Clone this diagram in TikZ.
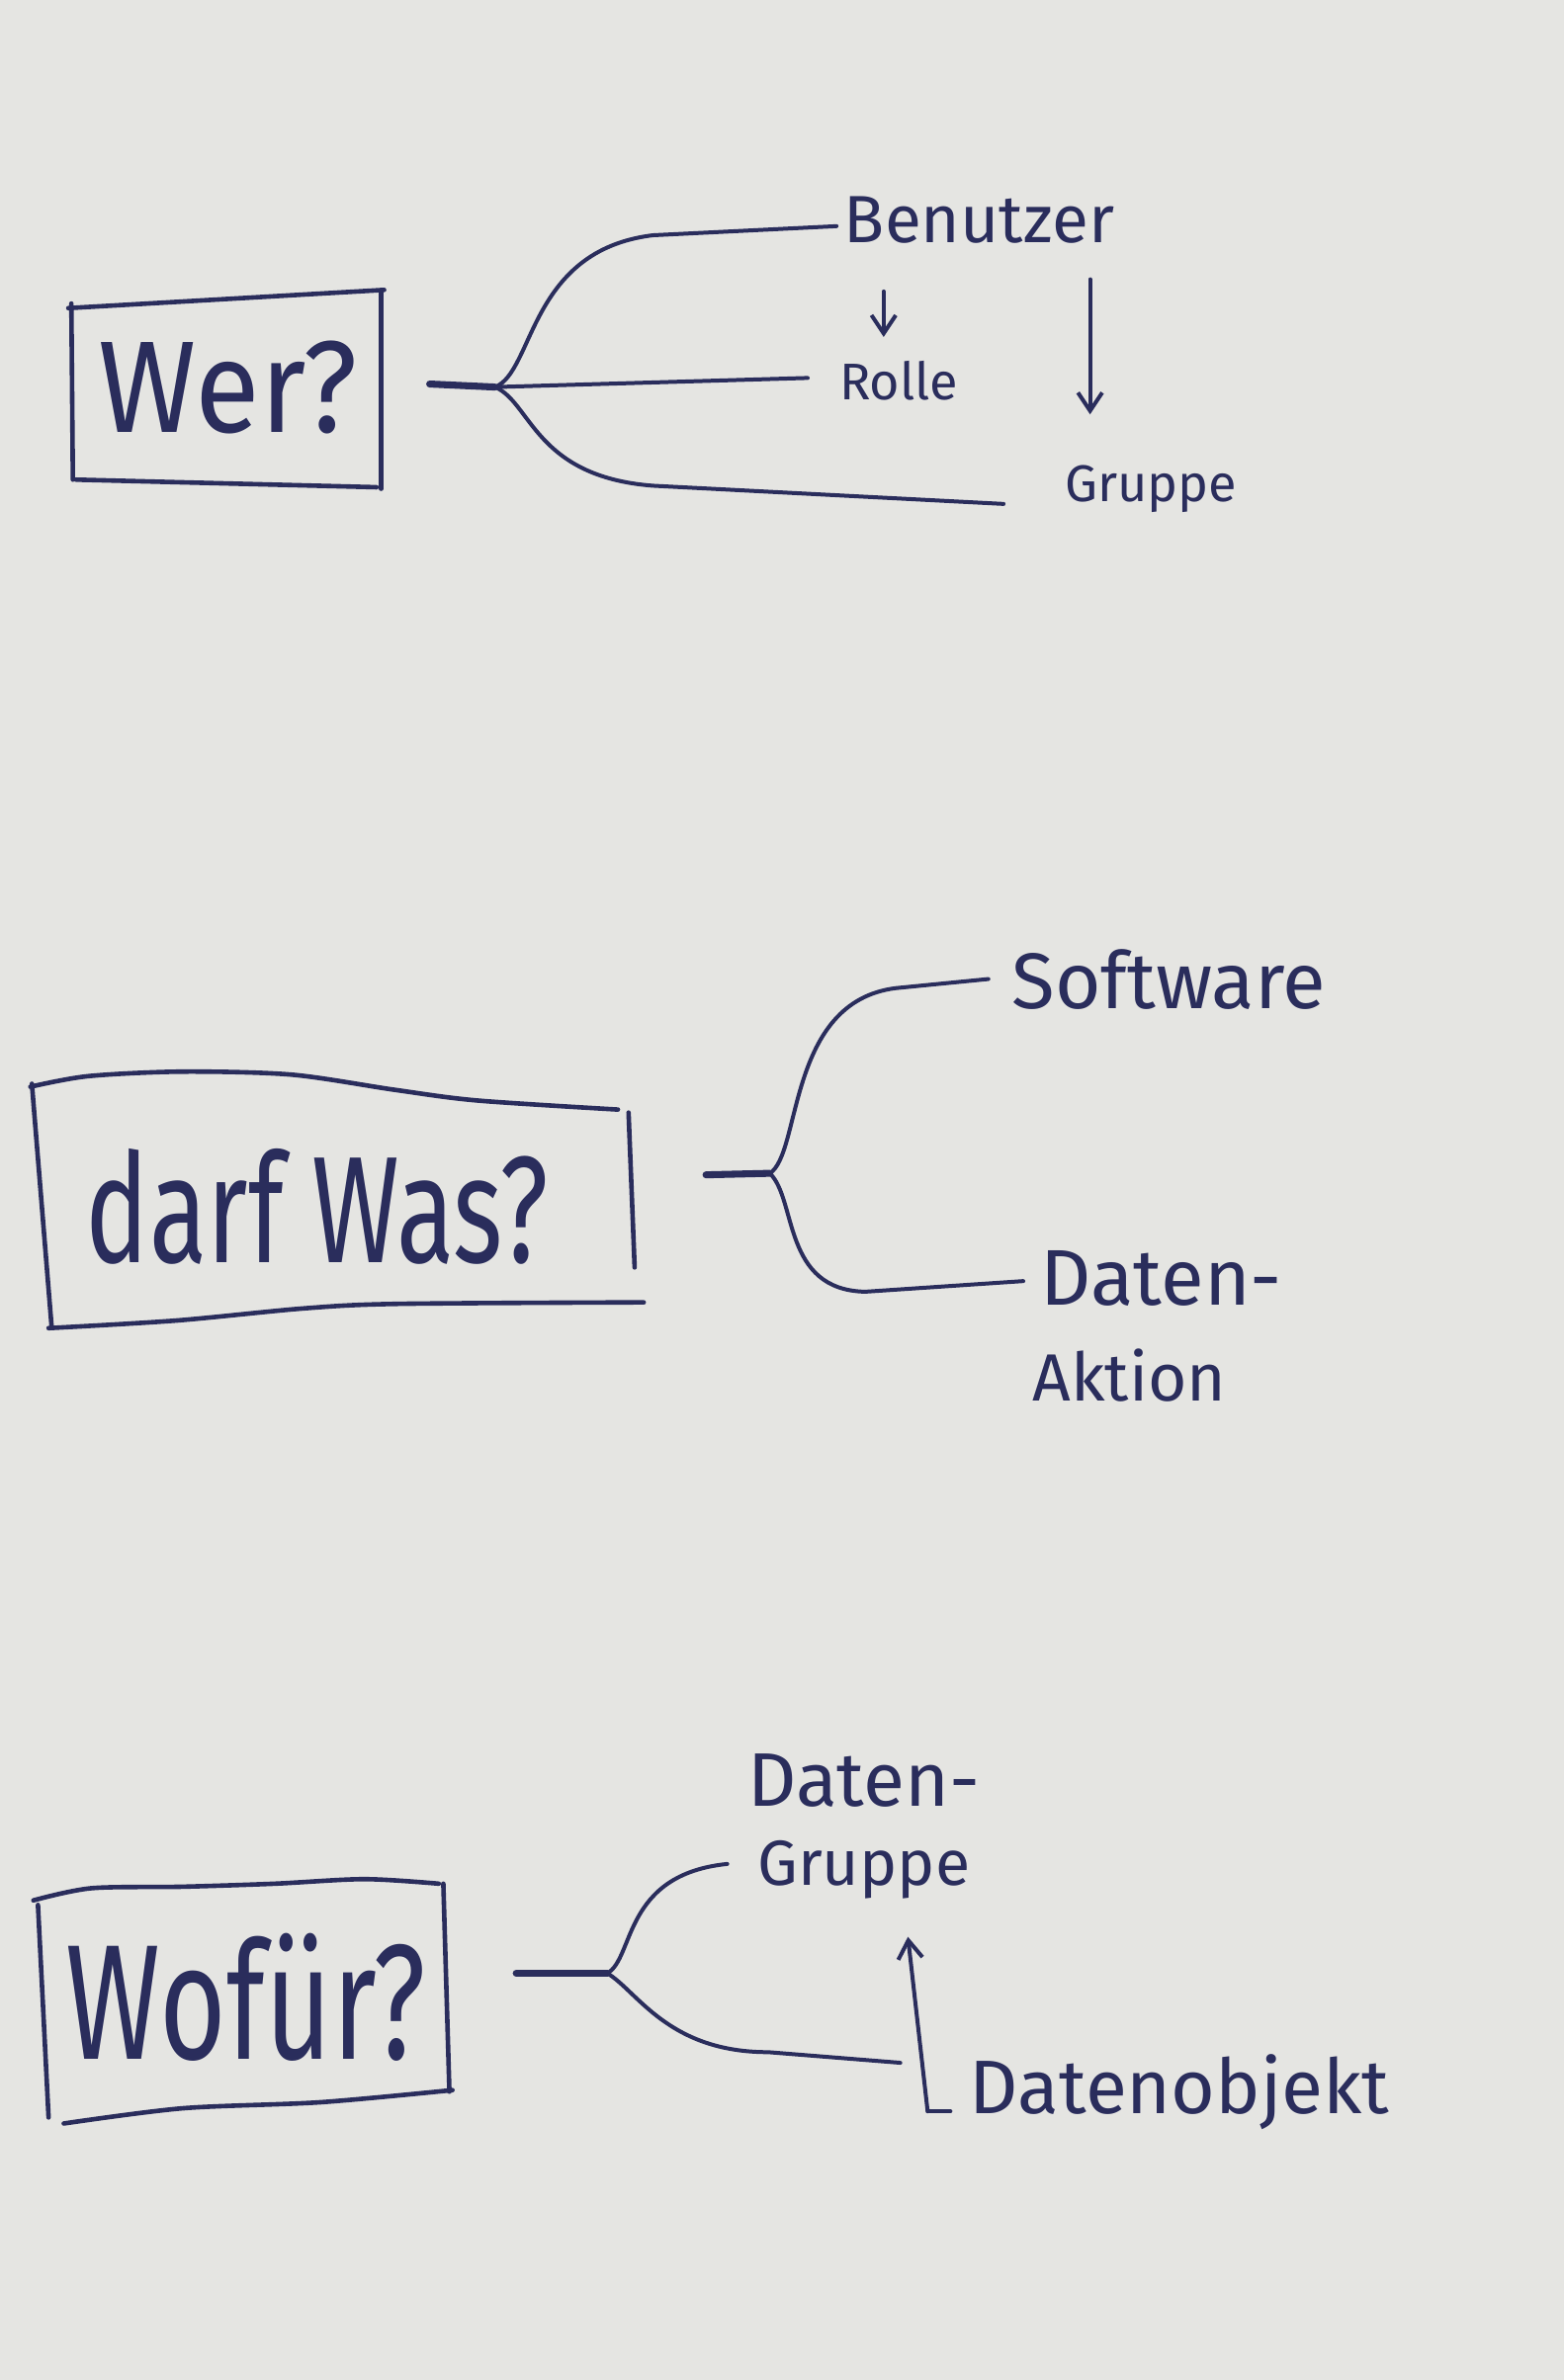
\documentclass[tikz,border=0pt]{standalone}
\usepackage{fontspec}
\setmainfont{Fira Sans}
\usepackage{graphicx}
\usetikzlibrary{arrows.meta}
\definecolor{ink}{RGB}{42,45,92}
\definecolor{paper}{RGB}{229,229,226}
\tikzset{
  inkline/.style={draw=ink, line width=1.3pt, line cap=round, line join=round},
  boxline/.style={inkline, line width=1.5pt},
  stemline/.style={inkline, line width=2.3pt},
  arr/.style={inkline, -{Straight Barb[length=6pt,width=8pt]}},
  lbl/.style={text=ink, inner sep=0pt},
}
\newcommand{\fs}[1]{\fontsize{#1}{#1}\selectfont}
\begin{document}
\begin{tikzpicture}[x=0.5pt,y=-0.5pt]
\fill[paper] (0,0) rectangle (1030,1568);
\useasboundingbox (0,0) rectangle (1030,1568);

% ---------- Section 1: Wer? ----------
\node[lbl] (wer) at (150,255) {\fs{43pt}\scalebox{0.91}[1]{Wer?}};
\draw[boxline] (45,203) -- (253,191);
\draw[boxline] (47,200) -- (48,316);
\draw[boxline] (251,192) -- (251,322);
\draw[boxline] (50,316) -- (248,321);

\node[lbl] (benutzer) at (645,145) {\fs{22pt}Benutzer};
\node[lbl] (rolle) at (592,251) {\fs{17pt}Rolle};
\node[lbl] (gruppe1) at (758,322) {\fs{17pt}Gruppe};

\coordinate (s1) at (283,253);
\coordinate (j1) at (326,255);
\coordinate (e1a) at (551,149);
\coordinate (e1b) at (532,249);
\coordinate (e1c) at (661,332);
\draw[stemline] (s1) -- (j1);
\draw[inkline] (j1) .. controls (352,245) and (348,165) .. (430,155) -- (e1a);
\draw[inkline] (j1) -- (e1b);
\draw[inkline] (j1) .. controls (350,265) and (352,314) .. (430,320) -- (e1c);

\coordinate (a1s) at (582,192);
\coordinate (a1e) at (582,222);
\draw[arr] (a1s) -- (a1e);
\coordinate (a2s) at (718,184);
\coordinate (a2e) at (718,273);
\draw[arr] (a2s) -- (a2e);

% ---------- Section 2: darf Was? ----------
\node[lbl] (darf) at (209,795) {\fs{50pt}\scalebox{0.7}[1]{darf Was?}};
\draw[boxline] plot[smooth] coordinates {(20,716) (58,709) (120,706) (192,708) (260,718) (314,725) (407,731)};
\draw[boxline] (21,714) -- (34,874);
\draw[boxline] (414,733) -- (418,835);
\draw[boxline] plot[smooth] coordinates {(32,875) (116,870) (200,862) (262,859) (424,858)};

\node[lbl] (software) at (770,645) {\fs{26pt}Software};
\node[lbl] (daten2) at (765,842) {\fs{26pt}Daten-};
\node[lbl] (aktion) at (744,906) {\fs{22pt}Aktion};

\coordinate (s2) at (465,774);
\coordinate (j2) at (507,773);
\coordinate (e2a) at (651,645);
\coordinate (e2b) at (674,844);
\draw[stemline] (s2) -- (j2);
\draw[inkline] (j2) .. controls (528,760) and (518,660) .. (590,651) -- (e2a);
\draw[inkline] (j2) .. controls (525,790) and (515,850) .. (570,851) -- (e2b);

% ---------- Section 3: Wofür? ----------
\node[lbl] (wofuer) at (162,1316) {\fs{54pt}\scalebox{0.7}[1]{Wofür?}};
\draw[boxline] plot[smooth] coordinates {(22,1252) (60,1244) (120,1243) (181,1241) (240,1238) (289,1241)};
\draw[boxline] (25,1255) -- (32,1395);
\draw[boxline] (292,1241) -- (296,1378);
\draw[boxline] plot[smooth] coordinates {(42,1399) (120,1389) (211,1385) (298,1377)};

\node[lbl] (daten3) at (569,1173) {\fs{25pt}Daten-};
\node[lbl] (gruppe3) at (569,1232) {\fs{21pt}Gruppe};
\node[lbl] (datenobjekt) at (777,1378) {\fs{25pt}Datenobjekt};

\coordinate (s3) at (340,1300);
\coordinate (j3) at (400,1300);
\coordinate (e3a) at (479,1228);
\coordinate (e3b) at (593,1359);
\draw[stemline] (s3) -- (j3);
\draw[inkline] (j3) .. controls (418,1290) and (410,1235) .. (e3a);
\draw[inkline] (j3) .. controls (420,1312) and (440,1352) .. (506,1352) -- (e3b);

\coordinate (a3s) at (611,1391);
\coordinate (a3e) at (598,1276);
\coordinate (a3t) at (626,1391);
\draw[inkline] (a3t) -- (a3s);
\draw[arr] (a3s) -- (a3e);
\end{tikzpicture}
\end{document}
